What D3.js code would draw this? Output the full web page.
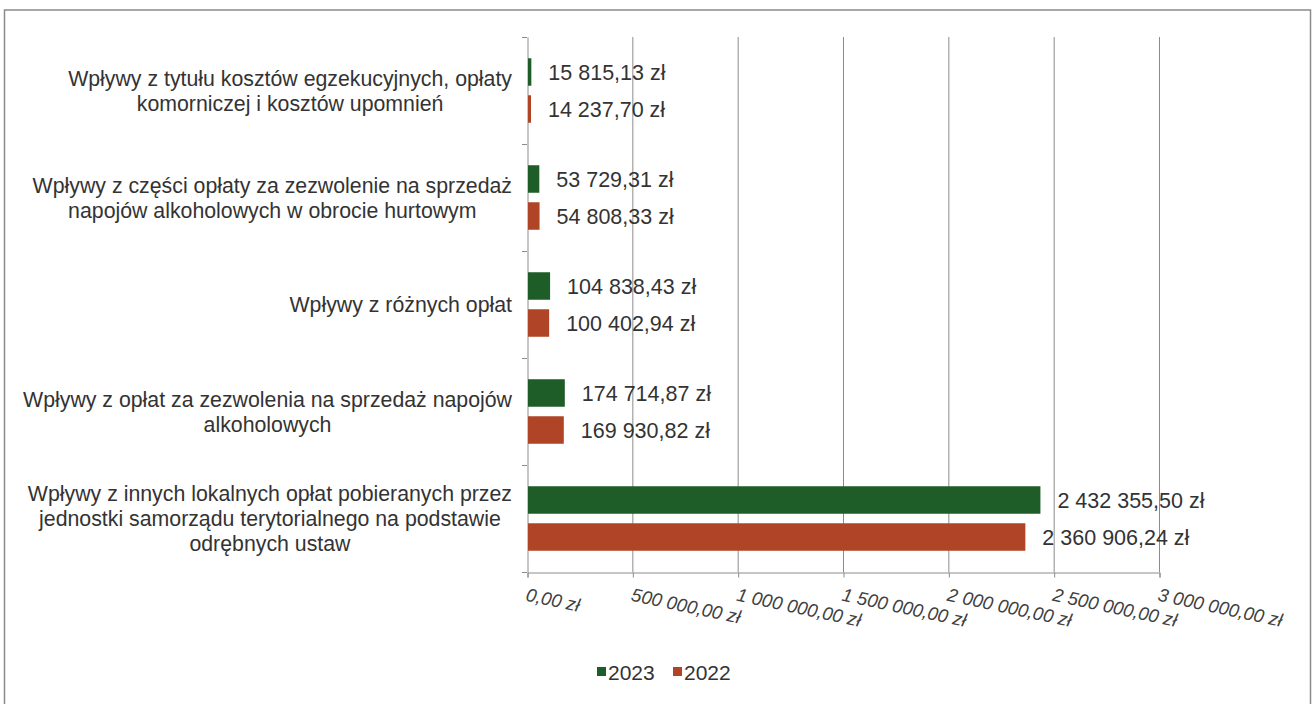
<!DOCTYPE html>
<html><head><meta charset="utf-8">
<script src="https://cdn.jsdelivr.net/npm/d3@7"></script>
<style>
html,body{margin:0;padding:0;background:#fff;}
svg{display:block;font-family:"Liberation Sans",Arial,sans-serif;}
</style></head>
<body>
<svg id="chart" width="1312" height="704"></svg>
<script>
const categories = [
  ["Wpływy z tytułu kosztów egzekucyjnych, opłaty", "komorniczej i kosztów upomnień"],
  ["Wpływy z części opłaty za zezwolenie na sprzedaż", "napojów alkoholowych w obrocie hurtowym"],
  ["Wpływy z różnych opłat"],
  ["Wpływy z opłat za zezwolenia na sprzedaż napojów", "alkoholowych"],
  ["Wpływy z innych lokalnych opłat pobieranych przez", "jednostki samorządu terytorialnego na podstawie", "odrębnych ustaw"]
];
const series = ["2023", "2022"];
const values2023 = [15815.13, 53729.31, 104838.43, 174714.87, 2432355.50];
const values2022 = [14237.70, 54808.33, 100402.94, 169930.82, 2360906.24];
const ticks = [0, 500000, 1000000, 1500000, 2000000, 2500000, 3000000];
const colors = {"2023": "#1e5c28", "2022": "#b04427"};

(function(){
const fmt = v => {
  const s = v.toFixed(2).split(".");
  return s[0].replace(/\B(?=(\d{3})+(?!\d))/g, " ") + "," + s[1] + " zł";
};

const svg = d3.select("#chart");
svg.append("rect").attr("x", 4.5).attr("y", 10).attr("width", 1306).attr("height", 710)
  .attr("fill", "none").attr("stroke", "#8a8a8a").attr("stroke-width", 1.5);

const pLeft = 527, pRight = 1159, pTop = 37, pBottom = 572;
const x = d3.scaleLinear().domain([0, 3000000]).range([pLeft, pRight]);
const y = d3.scaleBand().domain(d3.range(categories.length)).range([pTop, pBottom]).padding(0);
const ys = d3.scaleBand().domain(series).range([0, y.bandwidth()]).paddingInner(0.257).paddingOuter(0.574);

svg.append("g").selectAll("line").data(ticks.slice(1)).join("line")
  .attr("x1", d => x(d) + 0.5).attr("x2", d => x(d) + 0.5)
  .attr("y1", pTop).attr("y2", pBottom)
  .attr("stroke", "#8c8c8c").attr("stroke-width", 1);

const xAxis = d3.axisBottom(x).tickValues(ticks).tickSize(5).tickFormat(d => fmt(d));
const gx = svg.append("g").attr("transform", `translate(0.5,${pBottom + 0.5})`).call(xAxis);
gx.select(".domain").attr("stroke", "#8c8c8c");
gx.selectAll(".tick line").attr("stroke", "#8c8c8c");
gx.selectAll(".tick text")
  .attr("fill", "#404040").attr("font-size", 18.5).attr("font-style", "italic")
  .attr("font-family", "'Liberation Sans', Arial, sans-serif")
  .attr("text-anchor", "start").attr("dy", 0).attr("y", 0)
  .attr("transform", "translate(-3,28) rotate(12)");

const yAxis = d3.axisLeft(y).tickValues([]).tickSize(0);
const gy = svg.append("g").attr("transform", `translate(${pLeft + 0.5},0)`).call(yAxis);
gy.select(".domain").attr("stroke", "#8c8c8c");
svg.append("g").selectAll("line").data(d3.range(categories.length + 1)).join("line")
  .attr("x1", pLeft - 5).attr("x2", pLeft)
  .attr("y1", i => (i < categories.length ? y(i) : pBottom) + 0.5)
  .attr("y2", i => (i < categories.length ? y(i) : pBottom) + 0.5)
  .attr("stroke", "#8c8c8c");

const rows = categories.map((c, i) => [
  {cat: i, s: "2023", v: values2023[i]},
  {cat: i, s: "2022", v: values2022[i]}
]).flat();

svg.append("g").selectAll("rect").data(rows).join("rect")
  .attr("x", x(0) + 1)
  .attr("y", d => y(d.cat) + ys(d.s))
  .attr("width", d => Math.max(1, x(d.v) - x(0)))
  .attr("height", ys.bandwidth())
  .attr("fill", d => colors[d.s]);

svg.append("g").selectAll("text").data(rows).join("text")
  .attr("x", d => x(d.v) + 18)
  .attr("y", d => y(d.cat) + ys(d.s) + ys.bandwidth() / 2)
  .attr("dy", "0.36em")
  .attr("font-size", 21.5).attr("fill", "#333")
  .text(d => fmt(d.v));

const lineH = 25;
const catG = svg.append("g");
categories.forEach((lines, i) => {
  const g = catG.append("g");
  const texts = lines.map((ln, k) => g.append("text")
    .attr("font-size", 21.3).attr("fill", "#333")
    .attr("text-anchor", "middle")
    .attr("y", y(i) + y.bandwidth() / 2 + (k - (lines.length - 1) / 2) * lineH)
    .attr("dy", "0.36em")
    .text(ln));
  const w = d3.max(texts, t => t.node().getComputedTextLength());
  const cx = 512 - w / 2;
  texts.forEach(t => t.attr("x", cx));
});

const legend = svg.append("g").attr("transform", "translate(597,667)");
series.forEach((s, i) => {
  const g = legend.append("g").attr("transform", `translate(${i * 76},0)`);
  g.append("rect").attr("width", 9).attr("height", 9).attr("fill", colors[s]);
  g.append("text").attr("x", 11).attr("y", 5).attr("dy", "0.36em")
    .attr("font-size", 21).attr("fill", "#333").text(s);
});
})();
</script>
</body></html>
